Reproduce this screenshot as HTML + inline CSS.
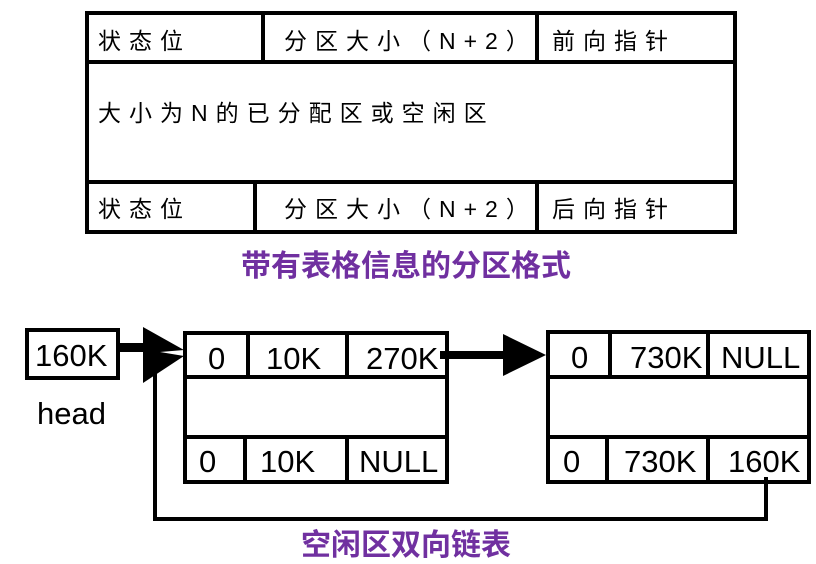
<!DOCTYPE html>
<html><head><meta charset="utf-8"><style>
body{margin:0;background:#fff}
svg text{font-family:"Liberation Sans","Noto Sans CJK SC",sans-serif}
.k{font-family:"Noto Serif CJK SC","Liberation Serif",serif;font-size:23px;letter-spacing:8px}
.n{font-size:31px}
</style></head><body>
<svg width="816" height="559" viewBox="0 0 816 559" xmlns="http://www.w3.org/2000/svg">
<g fill="none" stroke="#000" stroke-width="4">
<rect x="87" y="13" width="648" height="219"/>
<line x1="87" y1="62" x2="735" y2="62"/>
<line x1="87" y1="182" x2="735" y2="182"/>
<line x1="263" y1="13" x2="263" y2="62"/>
<line x1="537" y1="13" x2="537" y2="62"/>
<line x1="255" y1="182" x2="255" y2="232"/>
<line x1="537" y1="182" x2="537" y2="232"/>
</g>
<g class="k" fill="#000">
<text x="98" y="49">状态位</text>
<text x="284" y="49">分区大小（N+2）</text>
<text x="552" y="49">前向指针</text>
<text x="98" y="121">大小为N的已分配区或空闲区</text>
<text x="98" y="217">状态位</text>
<text x="284" y="217">分区大小（N+2）</text>
<text x="552" y="217">后向指针</text>
</g>
<text x="406" y="276" text-anchor="middle" font-size="30" font-weight="bold" fill="#7030a0">带有表格信息的分区格式</text>

<g fill="none" stroke="#000" stroke-width="4">
<rect x="27" y="330" width="91" height="48"/>
<rect x="185" y="333" width="262" height="149"/>
<line x1="185" y1="377" x2="447" y2="377"/>
<line x1="185" y1="437" x2="447" y2="437"/>
<line x1="248" y1="333" x2="248" y2="377"/>
<line x1="347" y1="333" x2="347" y2="377"/>
<line x1="245" y1="437" x2="245" y2="482"/>
<line x1="347" y1="437" x2="347" y2="482"/>
<rect x="548" y="332" width="261" height="150"/>
<line x1="548" y1="377" x2="809" y2="377"/>
<line x1="548" y1="437" x2="809" y2="437"/>
<line x1="610" y1="332" x2="610" y2="377"/>
<line x1="708" y1="332" x2="708" y2="377"/>
<line x1="607" y1="437" x2="607" y2="482"/>
<line x1="708" y1="437" x2="708" y2="482"/>
<polyline points="766,477 766,519 155,519 155,370"/>
</g>
<rect x="118" y="343" width="30" height="9" fill="#000"/>
<polygon points="143,327 184,350 160,352 184,356 143,383" fill="#000"/>
<rect x="440" y="351" width="70" height="8" fill="#000"/>
<polygon points="503,334 546,355 503,376" fill="#000"/>
<g class="n" fill="#000">
<text x="35" y="366">160K</text>
<text x="37" y="424">head</text>
<text x="208" y="369">0</text>
<text x="266" y="369">10K</text>
<text x="366" y="369">270K</text>
<text x="199" y="472">0</text>
<text x="260" y="472">10K</text>
<text x="359" y="472">NULL</text>
<text x="571" y="368">0</text>
<text x="630" y="368">730K</text>
<text x="721" y="368">NULL</text>
<text x="563" y="472">0</text>
<text x="624" y="472">730K</text>
<text x="728" y="472">160K</text>
</g>
<text x="406" y="555" text-anchor="middle" font-size="30" font-weight="bold" fill="#7030a0">空闲区双向链表</text>
</svg>
</body></html>
